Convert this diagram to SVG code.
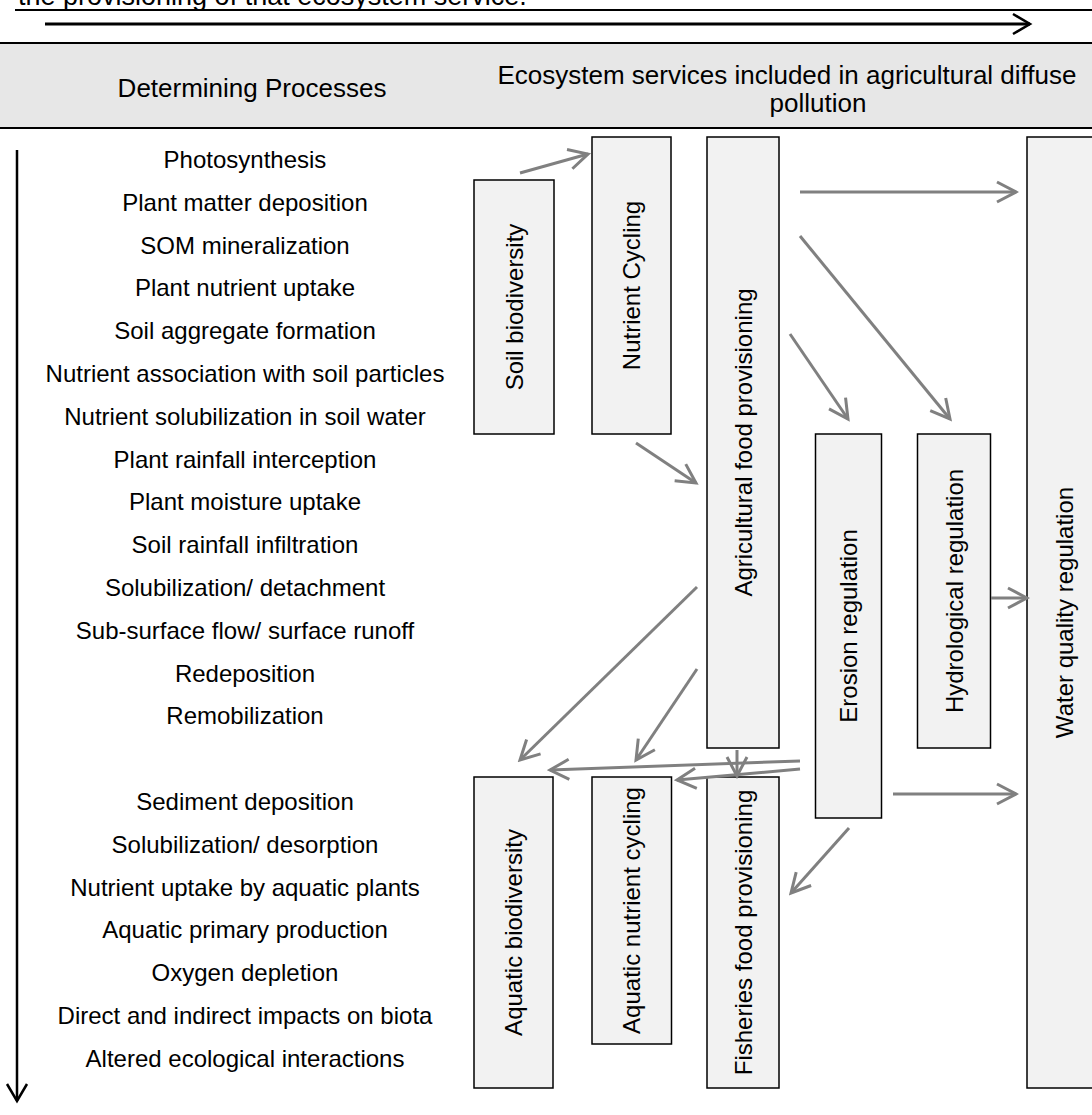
<svg xmlns="http://www.w3.org/2000/svg" width="1092" height="1115" viewBox="0 0 1092 1115">
  <style>
    .t { font-family: "Liberation Sans", Arial, sans-serif; fill: #000; }
    .hd { font-size: 26px; text-anchor: middle; }
    .proc { font-size: 24px; text-anchor: middle; }
    .lbl { font-size: 24px; text-anchor: middle; dominant-baseline: central; }
    .box { fill: #f2f2f2; stroke: #000; stroke-width: 1.5; }
    .rule { stroke: #000; stroke-width: 2; }
    .conn { stroke: #808080; stroke-width: 3; fill: none; marker-end: url(#ah); }
  </style>
  <defs>
    <marker id="ah" markerUnits="userSpaceOnUse" markerWidth="24" markerHeight="24" viewBox="0 0 24 24" refX="21" refY="12" orient="auto">
      <path d="M2,2 L21,12 L2,22" fill="none" stroke="#808080" stroke-width="3"/>
    </marker>
    <marker id="ahk" markerUnits="userSpaceOnUse" markerWidth="24" markerHeight="24" viewBox="0 0 24 24" refX="19" refY="12" orient="auto">
      <path d="M2,2 L19,12 L2,22" fill="none" stroke="#000" stroke-width="2.5"/>
    </marker>
  </defs>

  <rect x="0" y="0" width="1092" height="1115" fill="#fff"/>

  <!-- caption tail clipped at top edge -->
  <text class="t" x="18" y="5" font-size="27px">the provisioning of that ecosystem service.</text>
  <line class="rule" x1="15" y1="10" x2="1092" y2="10"/>
  <line x1="45" y1="24" x2="1030" y2="24" stroke="#000" stroke-width="3" marker-end="url(#ahk)"/>

  <!-- header band -->
  <g id="header">
    <rect x="0" y="43" width="1092" height="85" fill="#e7e7e7"/>
    <line class="rule" x1="0" y1="43" x2="1092" y2="43"/>
    <line class="rule" x1="0" y1="128" x2="1092" y2="128"/>
    <text class="t hd" x="252" y="97">Determining Processes</text>
    <text class="t hd" x="787" y="84" font-size="26.5px">Ecosystem services included in agricultural diffuse</text>
    <text class="t hd" x="818" y="112">pollution</text>
  </g>

  <!-- process axis -->
  <line x1="17" y1="150" x2="17" y2="1101" stroke="#000" stroke-width="2.5" marker-end="url(#ahk)"/>

  <g id="processes" class="t proc">
    <text x="245" y="168">Photosynthesis</text>
    <text x="245" y="211">Plant matter deposition</text>
    <text x="245" y="254">SOM mineralization</text>
    <text x="245" y="296">Plant nutrient uptake</text>
    <text x="245" y="339">Soil aggregate formation</text>
    <text x="245" y="382">Nutrient association with soil particles</text>
    <text x="245" y="425">Nutrient solubilization in soil water</text>
    <text x="245" y="468">Plant rainfall interception</text>
    <text x="245" y="510">Plant moisture uptake</text>
    <text x="245" y="553">Soil rainfall infiltration</text>
    <text x="245" y="596">Solubilization/ detachment</text>
    <text x="245" y="639">Sub-surface flow/ surface runoff</text>
    <text x="245" y="682">Redeposition</text>
    <text x="245" y="724">Remobilization</text>
    <text x="245" y="810">Sediment deposition</text>
    <text x="245" y="853">Solubilization/ desorption</text>
    <text x="245" y="896">Nutrient uptake by aquatic plants</text>
    <text x="245" y="938">Aquatic primary production</text>
    <text x="245" y="981">Oxygen depletion</text>
    <text x="245" y="1024">Direct and indirect impacts on biota</text>
    <text x="245" y="1067">Altered ecological interactions</text>
  </g>

  <!-- service nodes -->
  <g id="soil-biodiversity">
    <rect class="box" x="474" y="180" width="80" height="254"/>
    <text class="t lbl" transform="translate(514,307) rotate(-90)">Soil biodiversity</text>
  </g>
  <g id="nutrient-cycling">
    <rect class="box" x="592" y="137" width="79" height="297"/>
    <text class="t lbl" transform="translate(631.5,285.5) rotate(-90)">Nutrient Cycling</text>
  </g>
  <g id="agricultural-food">
    <rect class="box" x="707" y="137" width="72" height="611"/>
    <text class="t lbl" transform="translate(743,442.5) rotate(-90)">Agricultural food provisioning</text>
  </g>
  <g id="erosion-regulation">
    <rect class="box" x="815.5" y="434" width="66" height="384"/>
    <text class="t lbl" transform="translate(848.5,626) rotate(-90)">Erosion regulation</text>
  </g>
  <g id="hydrological-regulation">
    <rect class="box" x="917.5" y="434" width="73" height="314"/>
    <text class="t lbl" transform="translate(954,591) rotate(-90)">Hydrological regulation</text>
  </g>
  <g id="water-quality">
    <rect class="box" x="1027" y="137" width="80" height="951"/>
    <text class="t lbl" transform="translate(1064,612.5) rotate(-90)">Water quality regulation</text>
  </g>
  <g id="aquatic-biodiversity">
    <rect class="box" x="474" y="777" width="79" height="311"/>
    <text class="t lbl" transform="translate(513.5,932.5) rotate(-90)">Aquatic biodiversity</text>
  </g>
  <g id="aquatic-nutrient-cycling">
    <rect class="box" x="592" y="777" width="79.5" height="267"/>
    <text class="t lbl" transform="translate(631.5,910.5) rotate(-90)">Aquatic nutrient cycling</text>
  </g>
  <g id="fisheries-food">
    <rect class="box" x="707" y="777" width="72" height="311"/>
    <text class="t lbl" transform="translate(743,932.5) rotate(-90)">Fisheries food provisioning</text>
  </g>

  <!-- connectors -->
  <g id="connectors">
    <line class="conn" x1="520" y1="173" x2="588" y2="154"/>
    <line class="conn" x1="800" y1="192" x2="1016" y2="192"/>
    <line class="conn" x1="800" y1="236" x2="950" y2="419"/>
    <line class="conn" x1="790" y1="334" x2="848" y2="419"/>
    <line class="conn" x1="636" y1="443" x2="696" y2="483"/>
    <line class="conn" x1="697" y1="587" x2="520" y2="760"/>
    <line class="conn" x1="697" y1="669" x2="636" y2="760"/>
    <line class="conn" x1="737" y1="750" x2="737" y2="776"/>
    <line class="conn" x1="800" y1="761" x2="550" y2="770"/>
    <line class="conn" x1="800" y1="769" x2="677" y2="780"/>
    <line class="conn" x1="893" y1="794" x2="1016" y2="794"/>
    <line class="conn" x1="849" y1="828" x2="791" y2="893"/>
    <line class="conn" x1="991" y1="598" x2="1027" y2="598"/>
  </g>
</svg>
